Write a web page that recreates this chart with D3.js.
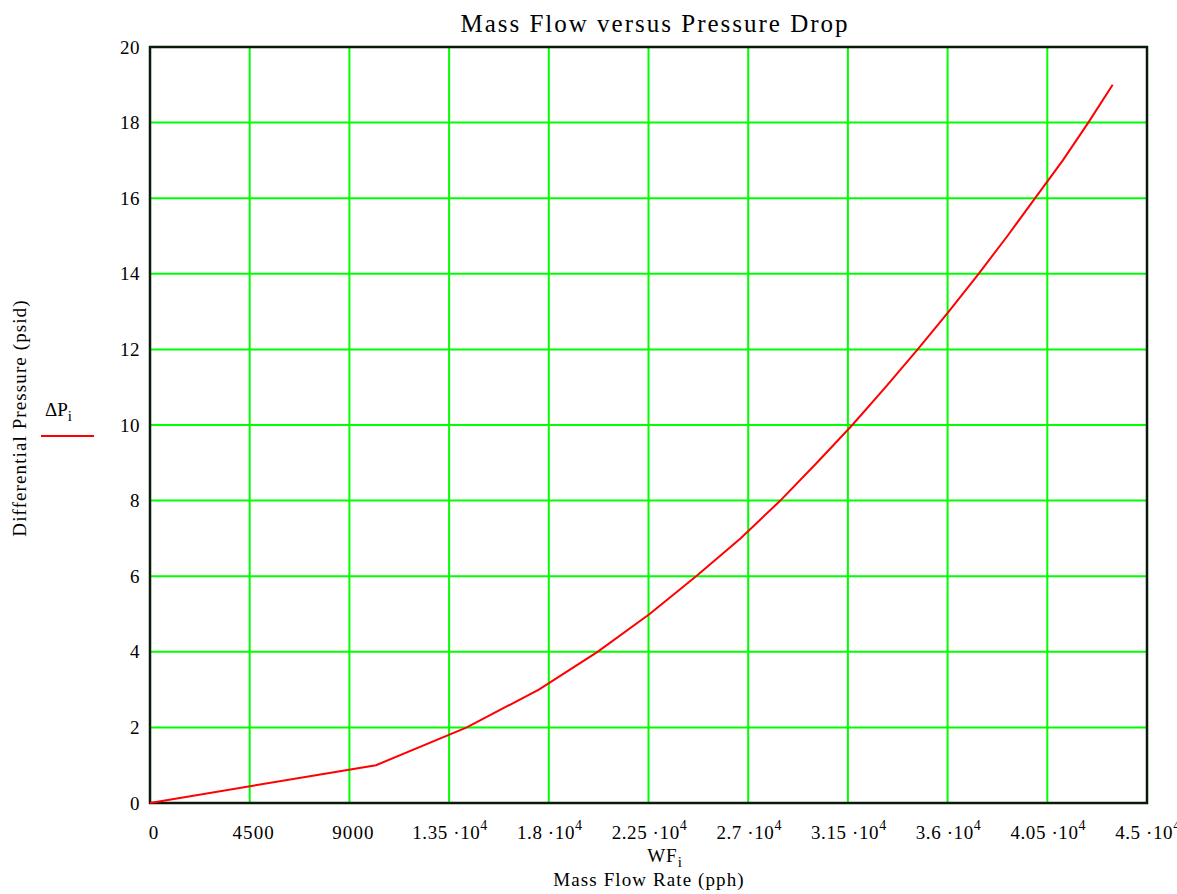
<!DOCTYPE html>
<html>
<head>
<meta charset="utf-8">
<script src="https://cdn.jsdelivr.net/npm/d3@7"></script>
<style>
  body { margin: 0; background: #fff; }
  text { font-family: "Liberation Serif", "DejaVu Serif", serif; fill: #000; }
</style>
</head>
<body>
<svg id="chart" width="1177" height="894"></svg>
<script>
// Pressure drop (psid) at each sample and the matching mass flow (pph)
const pressure = [0, 1, 2, 3, 4, 5, 6, 7, 8, 9, 10, 11, 12, 13, 14, 15, 16, 17, 18, 19];
const massFlow = [0, 10200, 14300, 17550, 20200, 22550, 24650, 26650, 28450, 30100,
                  31700, 33200, 34650, 36050, 37400, 38700, 39950, 41200, 42350, 43450];

// Tick labels as MathCad prints them: [mantissa, exponent]
const xTicks = [0, 4500, 9000, 13500, 18000, 22500, 27000, 31500, 36000, 40500, 45000];
const xTickLabels = [["0"], ["4500"], ["9000"], ["1.35", "4"], ["1.8", "4"], ["2.25", "4"],
                     ["2.7", "4"], ["3.15", "4"], ["3.6", "4"], ["4.05", "4"], ["4.5", "4"]];
const yTicks = [0, 2, 4, 6, 8, 10, 12, 14, 16, 18, 20];

const margin = {top: 47, right: 30, bottom: 91, left: 150};
const width = 1177, height = 894;

const svg = d3.select("#chart");

const x = d3.scaleLinear().domain([0, 45000]).range([margin.left, width - margin.right]);
const y = d3.scaleLinear().domain([0, 20]).range([height - margin.bottom, margin.top]);

// Grid
svg.append("g")
    .selectAll("line")
    .data(xTicks.slice(1, -1))
    .join("line")
    .attr("x1", d => x(d)).attr("x2", d => x(d))
    .attr("y1", y(0)).attr("y2", y(20))
    .attr("stroke", "#00ff00").attr("stroke-width", 2);

svg.append("g")
    .selectAll("line")
    .data(yTicks.slice(1, -1))
    .join("line")
    .attr("x1", x(0)).attr("x2", x(45000))
    .attr("y1", d => y(d)).attr("y2", d => y(d))
    .attr("stroke", "#00ff00").attr("stroke-width", 2);

// Frame
svg.append("rect")
    .attr("x", x(0)).attr("y", y(20))
    .attr("width", x(45000) - x(0)).attr("height", y(0) - y(20))
    .attr("fill", "none").attr("stroke", "#0a1a0a").attr("stroke-width", 2.5);

// Curve
const line = d3.line()
    .x((d, i) => x(massFlow[i]))
    .y(d => y(d));

svg.append("path")
    .datum(pressure)
    .attr("d", line)
    .attr("fill", "none")
    .attr("stroke", "#ff0000")
    .attr("stroke-width", 2);

// Y tick labels
svg.append("g")
    .selectAll("text")
    .data(yTicks)
    .join("text")
    .attr("x", x(0) - 10)
    .attr("y", d => y(d))
    .attr("dy", "0.35em")
    .attr("text-anchor", "end")
    .attr("font-size", 19)
    .attr("letter-spacing", 0.5)
    .text(d => d);

// X tick labels (the last one runs off the right edge, as in the original)
const xl = svg.append("g")
    .selectAll("text")
    .data(xTicks)
    .join("text")
    .attr("x", (d, i) => x(d) + (xTickLabels[i][1] ? 1 : 4))
    .attr("y", height - margin.bottom + 36)
    .attr("text-anchor", "middle")
    .attr("font-size", 19)
    .attr("letter-spacing", (d, i) => xTickLabels[i][1] ? 0.6 : 1.1);

xl.each(function(d, i) {
    const t = d3.select(this);
    const [mant, exp] = xTickLabels[i];
    if (!exp) { t.text(mant); return; }
    t.append("tspan").text(mant + " \u00b710");
    t.append("tspan").attr("font-size", 14).attr("dy", -9).text(exp);
});

// Title
svg.append("text")
    .attr("x", 655)
    .attr("y", 32)
    .attr("text-anchor", "middle")
    .attr("font-size", 25)
    .attr("letter-spacing", 2)
    .text("Mass Flow versus Pressure Drop");

// X axis labels
const wf = svg.append("text")
    .attr("x", 665)
    .attr("y", 862)
    .attr("text-anchor", "middle")
    .attr("font-size", 19)
    .attr("letter-spacing", 1);
wf.append("tspan").text("WF");
wf.append("tspan").attr("font-size", 15).attr("dy", 5).text("i");

svg.append("text")
    .attr("x", 649)
    .attr("y", 886)
    .attr("text-anchor", "middle")
    .attr("font-size", 19)
    .attr("letter-spacing", 1.1)
    .text("Mass Flow Rate (pph)");

// Y axis label
svg.append("text")
    .attr("transform", "translate(26,418) rotate(-90)")
    .attr("text-anchor", "middle")
    .attr("font-size", 19)
    .attr("letter-spacing", 1.1)
    .text("Differential Pressure (psid)");

// Legend
const leg = svg.append("text")
    .attr("x", 45)
    .attr("y", 416)
    .attr("font-size", 19);
leg.append("tspan").text("\u0394P");
leg.append("tspan").attr("font-size", 15).attr("dy", 5).text("i");

svg.append("line")
    .attr("x1", 41).attr("x2", 94)
    .attr("y1", 436).attr("y2", 436)
    .attr("stroke", "#ff0000").attr("stroke-width", 2);
</script>
</body>
</html>
